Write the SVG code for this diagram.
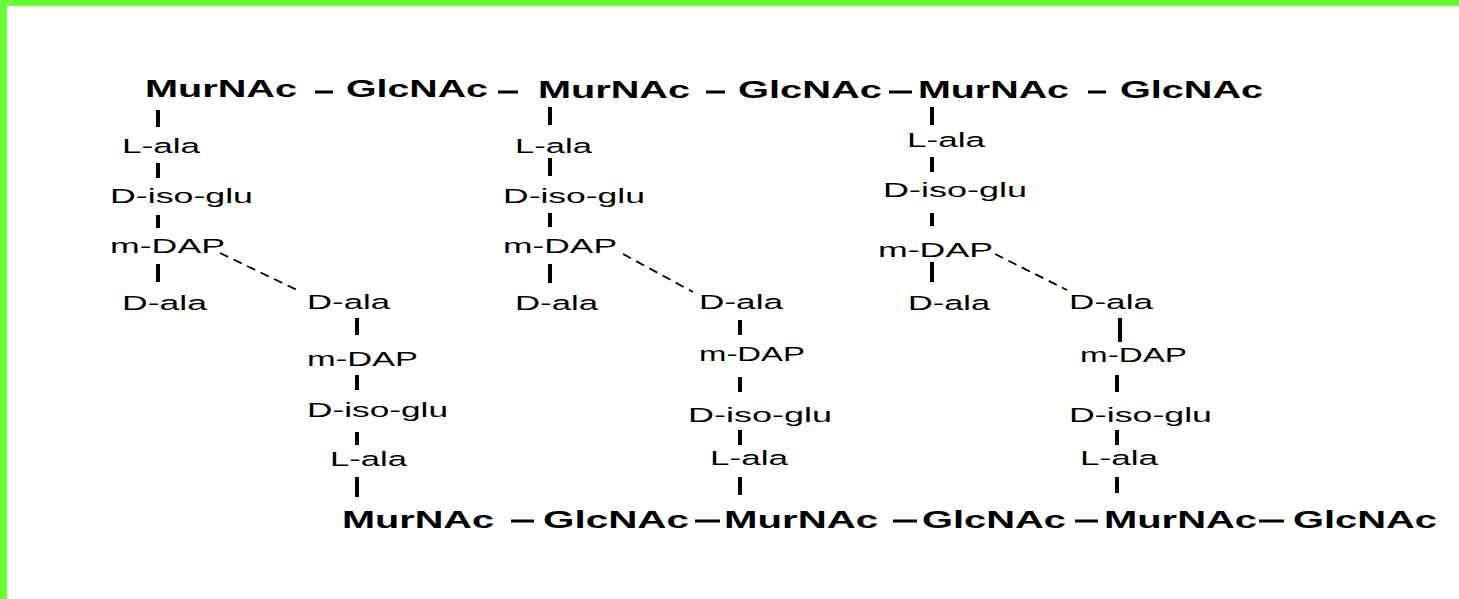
<svg xmlns="http://www.w3.org/2000/svg" width="1459" height="599" viewBox="0 0 1459 599">
<style>
.s{font-family:"Liberation Sans",Arial,sans-serif;font-weight:bold;font-size:23px;fill:#000}
.t{font-family:"Liberation Sans",Arial,sans-serif;font-weight:bold;font-size:24px;fill:#000}
.a{font-family:"Liberation Sans",Arial,sans-serif;font-size:20.5px;fill:#000}
.b{stroke:#000;stroke-width:4;fill:none}
.h{stroke:#000;stroke-width:3;fill:none}
.d{stroke:#000;stroke-width:1.8;stroke-dasharray:9 6;fill:none}
</style>
<rect x="0" y="0" width="1459" height="599" fill="#fff"/>
<rect x="0" y="0" width="1459" height="6" fill="#66ff33"/>
<rect x="0" y="0" width="7" height="599" fill="#66ff33"/>

<g id="top-glycan">
<text class="s" x="145" y="97" textLength="152" lengthAdjust="spacingAndGlyphs">MurNAc</text>
<text class="s" x="346" y="97" textLength="142" lengthAdjust="spacingAndGlyphs">GlcNAc</text>
<text class="s" x="538" y="98" textLength="152" lengthAdjust="spacingAndGlyphs">MurNAc</text>
<text class="s" x="738" y="98" textLength="144" lengthAdjust="spacingAndGlyphs">GlcNAc</text>
<text class="s" x="918" y="98" textLength="151" lengthAdjust="spacingAndGlyphs">MurNAc</text>
<text class="s" x="1120" y="98" textLength="143" lengthAdjust="spacingAndGlyphs">GlcNAc</text>
</g>
<g id="bottom-glycan">
<text class="t" x="342" y="528" textLength="152" lengthAdjust="spacingAndGlyphs">MurNAc</text>
<text class="t" x="543" y="528" textLength="146" lengthAdjust="spacingAndGlyphs">GlcNAc</text>
<text class="t" x="724" y="528" textLength="154" lengthAdjust="spacingAndGlyphs">MurNAc</text>
<text class="t" x="922" y="528" textLength="144" lengthAdjust="spacingAndGlyphs">GlcNAc</text>
<text class="t" x="1104" y="528" textLength="153" lengthAdjust="spacingAndGlyphs">MurNAc</text>
<text class="t" x="1293" y="528" textLength="144" lengthAdjust="spacingAndGlyphs">GlcNAc</text>
</g>

<g id="stem1-top">
<text class="a" x="122" y="153" textLength="78" lengthAdjust="spacingAndGlyphs">L-ala</text>
<text class="a" x="110" y="203" textLength="143" lengthAdjust="spacingAndGlyphs">D-iso-glu</text>
<text class="a" x="110" y="253" textLength="115" lengthAdjust="spacingAndGlyphs">m-DAP</text>
<text class="a" x="122" y="310" textLength="85" lengthAdjust="spacingAndGlyphs">D-ala</text>
</g>
<g id="stem1-bottom">
<text class="a" x="307" y="309" textLength="83" lengthAdjust="spacingAndGlyphs">D-ala</text>
<text class="a" x="307" y="366" textLength="111" lengthAdjust="spacingAndGlyphs">m-DAP</text>
<text class="a" x="307" y="417" textLength="141" lengthAdjust="spacingAndGlyphs">D-iso-glu</text>
<text class="a" x="330" y="466" textLength="77" lengthAdjust="spacingAndGlyphs">L-ala</text>
</g>
<g id="stem2-top">
<text class="a" x="515" y="153" textLength="77" lengthAdjust="spacingAndGlyphs">L-ala</text>
<text class="a" x="503" y="203" textLength="142" lengthAdjust="spacingAndGlyphs">D-iso-glu</text>
<text class="a" x="503" y="253" textLength="114" lengthAdjust="spacingAndGlyphs">m-DAP</text>
<text class="a" x="515" y="310" textLength="83" lengthAdjust="spacingAndGlyphs">D-ala</text>
</g>
<g id="stem2-bottom">
<text class="a" x="699" y="309" textLength="84" lengthAdjust="spacingAndGlyphs">D-ala</text>
<text class="a" x="699" y="361" textLength="106" lengthAdjust="spacingAndGlyphs">m-DAP</text>
<text class="a" x="688" y="422" textLength="144" lengthAdjust="spacingAndGlyphs">D-iso-glu</text>
<text class="a" x="710" y="465" textLength="78" lengthAdjust="spacingAndGlyphs">L-ala</text>
</g>
<g id="stem3-top">
<text class="a" x="907" y="147" textLength="78" lengthAdjust="spacingAndGlyphs">L-ala</text>
<text class="a" x="883" y="197" textLength="144" lengthAdjust="spacingAndGlyphs">D-iso-glu</text>
<text class="a" x="878" y="257" textLength="115" lengthAdjust="spacingAndGlyphs">m-DAP</text>
<text class="a" x="908" y="310" textLength="82" lengthAdjust="spacingAndGlyphs">D-ala</text>
</g>
<g id="stem3-bottom">
<text class="a" x="1069" y="309" textLength="84" lengthAdjust="spacingAndGlyphs">D-ala</text>
<text class="a" x="1080" y="362" textLength="107" lengthAdjust="spacingAndGlyphs">m-DAP</text>
<text class="a" x="1069" y="422" textLength="143" lengthAdjust="spacingAndGlyphs">D-iso-glu</text>
<text class="a" x="1080" y="465" textLength="78" lengthAdjust="spacingAndGlyphs">L-ala</text>
</g>

<g id="connectors">
<line class="h" x1="315" y1="92" x2="333" y2="92"/>
<line class="h" x1="498" y1="92" x2="518" y2="92"/>
<line class="h" x1="706" y1="92" x2="725" y2="92"/>
<line class="h" x1="889" y1="92" x2="912" y2="92"/>
<line class="h" x1="1088" y1="92" x2="1106" y2="92"/>
<line class="h" x1="511" y1="521" x2="534" y2="521"/>
<line class="h" x1="695" y1="521" x2="720" y2="521"/>
<line class="h" x1="893" y1="521" x2="917" y2="521"/>
<line class="h" x1="1075" y1="521" x2="1098" y2="521"/>
<line class="h" x1="1259" y1="521" x2="1284" y2="521"/>
<line class="b" x1="158" y1="110" x2="158" y2="127"/>
<line class="b" x1="158" y1="163" x2="158" y2="178"/>
<line class="b" x1="158" y1="215" x2="158" y2="228"/>
<line class="b" x1="158" y1="264" x2="158" y2="282"/>
<line class="d" x1="220" y1="253" x2="297" y2="290"/>
<line class="b" x1="357" y1="318" x2="357" y2="335"/>
<line class="b" x1="357" y1="375" x2="357" y2="390"/>
<line class="b" x1="357" y1="432" x2="357" y2="445"/>
<line class="b" x1="357" y1="477" x2="357" y2="497"/>
<line class="b" x1="550" y1="107" x2="550" y2="125"/>
<line class="b" x1="550" y1="158" x2="550" y2="176"/>
<line class="b" x1="550" y1="213" x2="550" y2="227"/>
<line class="b" x1="550" y1="264" x2="550" y2="283"/>
<line class="d" x1="623" y1="254" x2="693" y2="292"/>
<line class="b" x1="740" y1="320" x2="740" y2="335"/>
<line class="b" x1="740" y1="377" x2="740" y2="392"/>
<line class="b" x1="740" y1="430" x2="740" y2="445"/>
<line class="b" x1="740" y1="477" x2="740" y2="495"/>
<line class="b" x1="932" y1="107" x2="932" y2="125"/>
<line class="b" x1="932" y1="157" x2="932" y2="172"/>
<line class="b" x1="932" y1="213" x2="932" y2="226"/>
<line class="b" x1="932" y1="262" x2="932" y2="282"/>
<line class="d" x1="995" y1="254" x2="1067" y2="290"/>
<line class="b" x1="1120" y1="318" x2="1120" y2="342"/>
<line class="b" x1="1117" y1="375" x2="1117" y2="392"/>
<line class="b" x1="1117" y1="430" x2="1117" y2="445"/>
<line class="b" x1="1117" y1="477" x2="1117" y2="493"/>
</g>
</svg>
